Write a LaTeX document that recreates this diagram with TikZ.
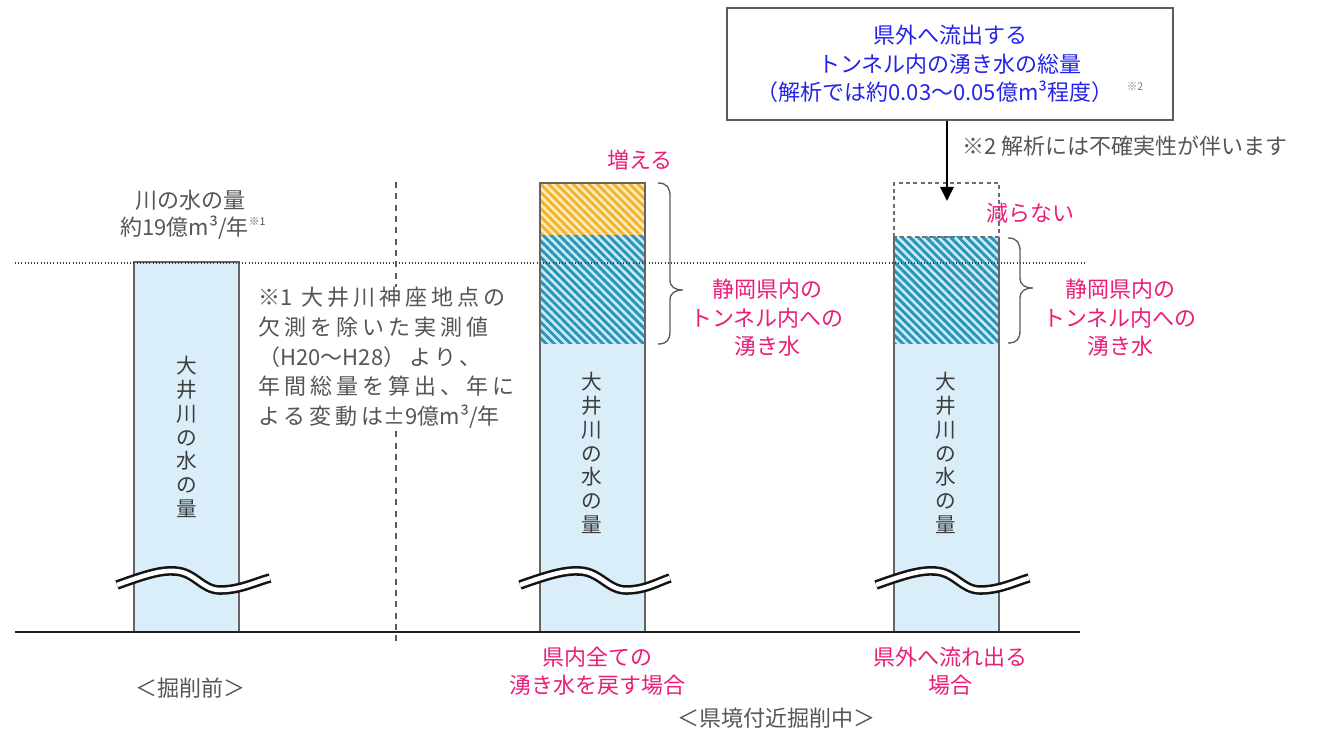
\documentclass[tikz,border=0pt]{standalone}
\usepackage{fontspec}
\setmainfont{Noto Sans CJK JP}
\newfontfamily\notefont[LetterSpace=18]{Noto Sans CJK JP}
\usetikzlibrary{arrows.meta,patterns.meta}

\tikzset{every picture/.style={line width=0.75pt}}
\tikzset{
	graytext/.style={text={rgb, 255:red, 85; green, 85; blue, 85}, font=\fontsize{16.5}{21}\selectfont, align=center, inner sep=0pt},
	pinktext/.style={text={rgb, 255:red, 233; green, 30; blue, 120}, font=\fontsize{16.5}{21.4}\selectfont, align=center, inner sep=0pt},
	bluetext/.style={text={rgb, 255:red, 35; green, 35; blue, 235}, font=\fontsize{16.5}{21.4}\selectfont, align=center},
	bartext/.style={text={rgb, 255:red, 60; green, 60; blue, 60}, font=\fontsize{15.5}{17.9}\selectfont, align=center, inner sep=0pt},
	barfill/.style={fill={rgb, 255:red, 218; green, 238; blue, 249}, draw=none},
	baredge/.style={draw={rgb, 255:red, 100; green, 100; blue, 100}, line width=1.1pt},
	orangehatch/.style={fill={rgb, 255:red, 253; green, 236; blue, 190}, postaction={pattern={Lines[angle=-45,distance=4.3pt,line width=2.2pt]}, pattern color={rgb, 255:red, 242; green, 180; blue, 45}}},
	bluehatch/.style={fill={rgb, 255:red, 205; green, 235; blue, 245}, postaction={pattern={Lines[angle=-45,distance=4.3pt,line width=2.2pt]}, pattern color={rgb, 255:red, 40; green, 150; blue, 185}}},
	wavedark/.style={line width=7.2pt, draw={rgb, 255:red, 20; green, 20; blue, 20}},
	wavewhite/.style={line width=3.4pt, draw=white},
	bracestyle/.style={draw={rgb, 255:red, 90; green, 90; blue, 90}, line width=1pt},
	downarrow/.style={line width=1.6pt, -{Triangle[length=10.5pt,width=10pt]}}
}

\begin{document}
\begin{tikzpicture}[x=0.75pt,y=0.75pt,yscale=-1,xscale=1]
	\useasboundingbox (0,0) rectangle (1326,730);

	%Shape: bar before digging
	\fill [barfill] (134,262) rectangle (239,632);
	\draw [baredge] (134,632) -- (134,262) -- (239,262) -- (239,632);

	%Shape: bar, all water returned
	\fill [barfill] (540,344) rectangle (645,632);
	\fill [bluehatch] (540,235) rectangle (645,344);
	\fill [orangehatch] (540,183) rectangle (645,235);
	\draw [baredge] (540,632) -- (540,183) -- (645,183) -- (645,632);

	%Shape: bar, water flows out
	\fill [barfill] (894,344) rectangle (999,632);
	\fill [bluehatch] (894,237) rectangle (999,344);
	\draw [baredge] (894,632) -- (894,237);
	\draw [baredge] (999,237) -- (999,632);
	\draw [draw={rgb, 255:red, 110; green, 110; blue, 110}, dash pattern=on 3pt off 2.5pt, line width=0.9pt] (894,237) -- (894,183) -- (999,183) -- (999,237) -- cycle;

	%Waves
	\draw [wavedark] (117,585) .. controls (145,575) and (160,570) .. (175,571) .. controls (195,572) and (202,590) .. (220,590) .. controls (240,590) and (255,582) .. (270,578);
	\draw [wavewhite] (117,585) .. controls (145,575) and (160,570) .. (175,571) .. controls (195,572) and (202,590) .. (220,590) .. controls (240,590) and (255,582) .. (270,578);
	\draw [wavedark] (520,585) .. controls (548,575) and (565,570) .. (580,571) .. controls (600,572) and (608,590) .. (626,590) .. controls (645,590) and (658,582) .. (670,578);
	\draw [wavewhite] (520,585) .. controls (548,575) and (565,570) .. (580,571) .. controls (600,572) and (608,590) .. (626,590) .. controls (645,590) and (658,582) .. (670,578);
	\draw [wavedark] (876,585) .. controls (904,575) and (920,570) .. (935,571) .. controls (955,572) and (962,590) .. (980,590) .. controls (1000,590) and (1015,582) .. (1029,578);
	\draw [wavewhite] (876,585) .. controls (904,575) and (920,570) .. (935,571) .. controls (955,572) and (962,590) .. (980,590) .. controls (1000,590) and (1015,582) .. (1029,578);

	%Lines: ground, level, divider
	\draw [line width=1.6pt, draw={rgb, 255:red, 30; green, 30; blue, 30}] (15,632) -- (1080,632);
	\draw [draw={rgb, 255:red, 60; green, 60; blue, 60}, dash pattern=on 0.8pt off 1.6pt, line width=0.8pt] (15,263) -- (1085,263);
	\draw [draw={rgb, 255:red, 90; green, 90; blue, 90}, dash pattern=on 4.5pt off 4pt, line width=1.1pt] (396,182) -- (396,642);

	%Braces
	\draw [bracestyle] (658,183) .. controls (667,183) and (670,188) .. (670,196) -- (670,280) .. controls (670,287) and (675,290) .. (683,290) .. controls (675,290) and (670,293) .. (670,300) -- (670,331) .. controls (670,340) and (667,344) .. (658,344);
	\draw [bracestyle] (1008,238) .. controls (1017,238) and (1020,243) .. (1020,251) -- (1020,278) .. controls (1020,285) and (1025,288) .. (1033,288) .. controls (1025,288) and (1020,291) .. (1020,298) -- (1020,330) .. controls (1020,339) and (1017,343) .. (1008,343);

	% Text Node
	\node [graytext] (riverlbl) at (190,200) {川の水の量};
	% Text Node
	\node [graytext] (rivervol) at (193,228) {約19億m³/年\raisebox{.45em}{\fontsize{8}{8}\selectfont ※1}};
	% Text Node
	\node [graytext, fill=white, anchor=north west, align=left, font=\notefont\fontsize{16.5}{22.2}\selectfont] (note1) at (258,287) {※{\rmfamily 1} 大井川神座地点の\\欠測を除いた実測値\\（{\rmfamily H20～H28}）より、\\年間総量を算出、年に\\よる変動は{\rmfamily ±9}億{\rmfamily m³/}年};
	% Text Node
	\node [bartext] (bar1txt) at (187,437) {大\\井\\川\\の\\水\\の\\量};
	\node [bartext] (bar2txt) at (592,453) {大\\井\\川\\の\\水\\の\\量};
	\node [bartext] (bar3txt) at (946,453) {大\\井\\川\\の\\水\\の\\量};
	% Text Node
	\node [pinktext] (incr) at (640,160) {増える};
	\node [pinktext] (nodecr) at (1030,213) {減らない};
	\node [pinktext] (inflow2) at (767,318) {静岡県内の\\トンネル内への\\湧き水};
	\node [pinktext] (inflow3) at (1120,318) {静岡県内の\\トンネル内への\\湧き水};
	\node [pinktext] (case2) at (597,671) {県内全ての\\湧き水を戻す場合};
	\node [pinktext] (case3) at (950,671) {県外へ流れ出る\\場合};
	% Text Node
	\node [graytext] (before) at (190,688) {＜掘削前＞};
	\node [graytext] (during) at (776,718) {＜県境付近掘削中＞};
	\node [graytext, anchor=west] (note2) at (962,146) {※2 解析には不確実性が伴います};

	%Box with arrow
	\node [bluetext, draw={rgb, 255:red, 90; green, 90; blue, 90}, line width=0.9pt, minimum width=334.5pt, minimum height=84pt, inner sep=0pt] (totalbox) at (950,64) {県外へ流出する\\トンネル内の湧き水の総量\\（解析では約0.03～0.05億m³程度）\hspace{0.6em}{\color{gray}\raisebox{.45em}{\fontsize{8}{8}\selectfont ※2}}};
	\coordinate (arrtip) at (947,201);
	\draw [downarrow] (totalbox.south -| arrtip) -- (arrtip);

\end{tikzpicture}
\end{document}
